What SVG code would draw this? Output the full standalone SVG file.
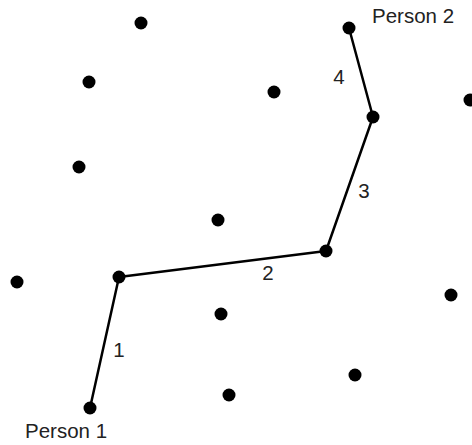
<svg xmlns="http://www.w3.org/2000/svg" width="472" height="445" viewBox="0 0 472 445">
<style>
.d{fill:#000}
.e{stroke:#000;stroke-width:2.5;fill:none;stroke-linejoin:round}
text{font-family:"Liberation Sans",Arial,sans-serif;font-size:20.5px;fill:#222}
</style>
<rect width="472" height="445" fill="#fff"/>
<g id="connectors">
<polyline class="e" points="90,408 119,277 326,251 373,117 349,28"/>
</g>
<g id="labels">
<text x="339" y="84" text-anchor="middle">4</text>
<text x="364" y="198" text-anchor="middle">3</text>
<text x="268" y="280" text-anchor="middle">2</text>
<text x="119" y="357" text-anchor="middle">1</text>
</g>
<g id="person1"><circle class="d" cx="90" cy="408" r="6.5"/><text x="25" y="438">Person 1</text></g>
<g id="person2"><circle class="d" cx="349" cy="28" r="6.5"/><text x="372" y="23">Person 2</text></g>
<g id="n1"><circle class="d" cx="119" cy="277" r="6.5"/></g>
<g id="n2"><circle class="d" cx="326" cy="251" r="6.5"/></g>
<g id="n3"><circle class="d" cx="373" cy="117" r="6.5"/></g>
<g id="p1"><circle class="d" cx="141" cy="23" r="6.5"/></g>
<g id="p2"><circle class="d" cx="89" cy="82" r="6.5"/></g>
<g id="p3"><circle class="d" cx="274" cy="92" r="6.5"/></g>
<g id="p4"><circle class="d" cx="470" cy="100" r="6.5"/></g>
<g id="p5"><circle class="d" cx="79" cy="167" r="6.5"/></g>
<g id="p6"><circle class="d" cx="218" cy="220" r="6.5"/></g>
<g id="p7"><circle class="d" cx="17" cy="282" r="6.5"/></g>
<g id="p8"><circle class="d" cx="451" cy="295" r="6.5"/></g>
<g id="p9"><circle class="d" cx="221" cy="314" r="6.5"/></g>
<g id="p10"><circle class="d" cx="355" cy="375" r="6.5"/></g>
<g id="p11"><circle class="d" cx="229" cy="395" r="6.5"/></g>
</svg>
